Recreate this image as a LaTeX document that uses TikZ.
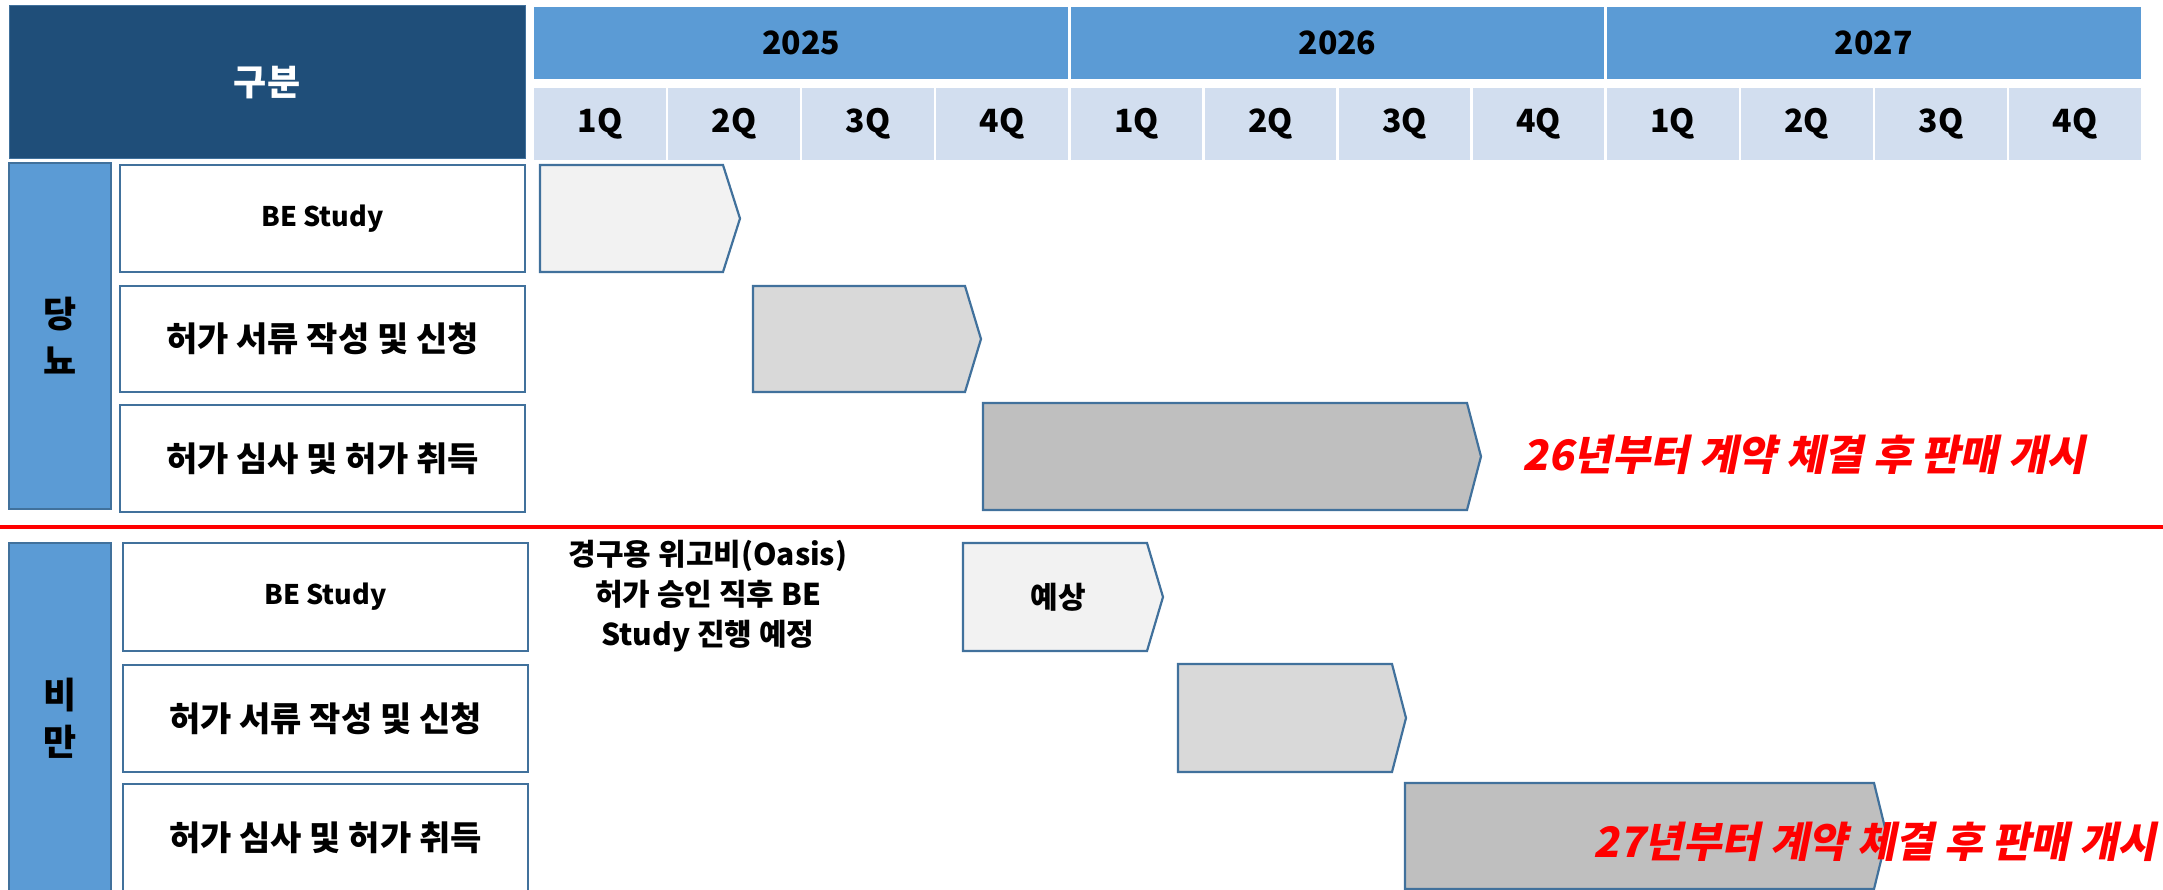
\documentclass[tikz,border=0pt]{standalone}
\usepackage{fontspec}
\setmainfont{Noto Sans CJK KR}
\newfontfamily\slantkr{Noto Sans CJK KR}[FakeSlant=0.2]
\definecolor{hdrdark}{HTML}{1F4E79}
\definecolor{hdrline}{HTML}{41719C}
\definecolor{yearblue}{HTML}{5B9BD5}
\definecolor{qblue}{HTML}{D2DEEF}
\definecolor{edge}{HTML}{41719C}
\definecolor{barA}{HTML}{F2F2F2}
\definecolor{barB}{HTML}{D9D9D9}
\definecolor{barC}{HTML}{BFBFBF}
\definecolor{redtext}{HTML}{FF0000}
\newcommand{\fs}[2]{\fontsize{#1}{#2}\selectfont\bfseries}
\begin{document}
\begin{tikzpicture}[x=1pt,y=-1pt,
  hdr/.style={fill=hdrdark, draw=hdrline, line width=1pt, inner sep=0pt, text=white, font=\fs{36}{40}},
  yearcell/.style={fill=yearblue, inner sep=0pt, minimum width=533.8pt, minimum height=72pt, font=\fs{32}{36}},
  qcell/.style={fill=qblue, inner sep=0pt, minimum width=131.6pt, minimum height=72pt, font=\fs{32}{36}},
  side/.style={fill=yearblue, draw=edge, line width=2.2pt, inner sep=0pt, minimum width=102pt, align=center, font=\fs{36}{47}},
  rowbox/.style={fill=white, draw=edge, line width=2.2pt, inner sep=0pt, minimum width=405pt, font=\fs{34}{38}},
  bestudy/.style={rowbox, font=\fs{27}{30}},
  bar/.style={draw=edge, line width=2.2pt, line join=miter},
  note/.style={align=center, font=\fs{30}{40}},
  redlabel/.style={text=redtext, font=\slantkr\fs{42}{46}}
]
\useasboundingbox (0,0) rectangle (2163,890);
\clip (0,0) rectangle (2163,890);

% header
\node[hdr, minimum width=516pt, minimum height=153pt] (gubun) at (267,82.5) {구분};
\foreach \yr [count=\j from 0] in {2025,2026,2027}
  \node[yearcell] (y\yr) at ({533+(4*\j+2)*134.08},43) {\yr};
\foreach \k in {0,...,11}{
  \pgfmathtruncatemacro{\qq}{mod(\k,4)+1}
  \node[qcell] (q\k) at ({533+(\k+0.5)*134.08},124) {\qq Q};
}

% side bars
\node[side, minimum height=346pt] (dm) at (60,336) {당\\뇨};
\node[side, minimum height=350pt] (ob) at (60,718) {비\\만};

% row label boxes, upper
\node[bestudy, minimum height=107pt] (ua) at (322.5,218.5) {BE Study};
\node[rowbox, minimum height=106pt] (ub) at (322.5,339) {허가 서류 작성 및 신청};
\node[rowbox, minimum height=107pt] (uc) at (322.5,458.5) {허가 심사 및 허가 취득};
% row label boxes, lower
\node[bestudy, minimum height=108pt] (la) at (325.5,597) {BE Study};
\node[rowbox, minimum height=107pt] (lb) at (325.5,718.5) {허가 서류 작성 및 신청};
\node[rowbox, minimum height=108pt] (lc) at (325.5,838) {허가 심사 및 허가 취득};

% separator
\draw[redtext, line width=4pt] (0,527) -- (2163,527);

% chevrons, upper
\draw[bar, fill=barA] (540,165) -- (723,165) -- (740,218.5) -- (723,272) -- (540,272) -- cycle;
\draw[bar, fill=barB] (753,286) -- (965,286) -- (981,339) -- (965,392) -- (753,392) -- cycle;
\draw[bar, fill=barC] (983,403) -- (1467,403) -- (1481,456.5) -- (1467,510) -- (983,510) -- cycle;
% chevrons, lower
\draw[bar, fill=barA] (963,543) -- (1147,543) -- (1163,597) -- (1147,651) -- (963,651) -- cycle;
\draw[bar, fill=barB] (1178,664) -- (1392,664) -- (1406,718) -- (1392,772) -- (1178,772) -- cycle;
\draw[bar, fill=barC] (1405,783) -- (1874,783) -- (1887,836) -- (1874,889) -- (1405,889) -- cycle;

% texts
\node[font=\fs{30}{34}] (expect) at (1058,597) {예상};
\node[note] (oasis) at (708,596) {경구용 위고비(Oasis)\\허가 승인 직후 BE\\Study 진행 예정};
\node[redlabel] (sale26) at (1804,455) {26년부터 계약 체결 후 판매 개시};
\node[redlabel] (sale27) at (1875,842) {27년부터 계약 체결 후 판매 개시};
\end{tikzpicture}
\end{document}
